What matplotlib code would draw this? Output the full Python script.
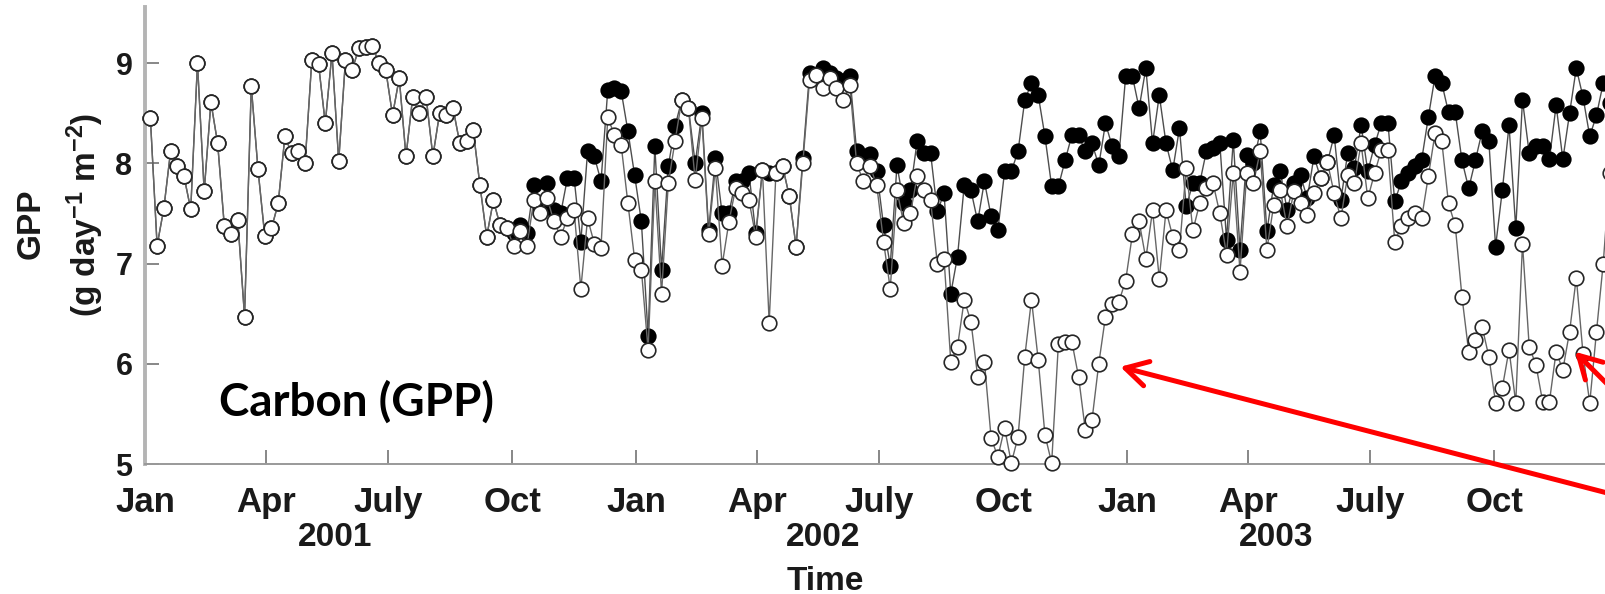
import matplotlib
matplotlib.use('Agg')
import matplotlib.pyplot as plt
import matplotlib.dates as mdates
import numpy as np

plt.rcParams['font.family'] = ['Liberation Sans', 'DejaVu Sans']
plt.rcParams['mathtext.fontset'] = 'custom'
plt.rcParams['mathtext.rm'] = 'Liberation Sans:bold'
plt.rcParams['mathtext.it'] = 'Liberation Sans:bold'
plt.rcParams['mathtext.bf'] = 'Liberation Sans:bold'

# 5-day GPP series, Jan 2001 - Dec 2003
start_date = np.datetime64('2001-01-05')
step_days = 5

# drought-affected run (open circles)
gpp_open = [
    8.45, 7.18, 7.55, 8.12, 7.97, 7.87, 7.54, 9.00, 7.72, 8.61,
    8.20, 7.37, 7.29, 7.43, 6.47, 8.77, 7.94, 7.28, 7.35, 7.60,
    8.27, 8.10, 8.12, 8.00, 9.03, 8.99, 8.40, 9.10, 8.02, 9.03,
    8.93, 9.15, 9.16, 9.17, 9.00, 8.93, 8.48, 8.85, 8.07, 8.66,
    8.50, 8.66, 8.07, 8.50, 8.48, 8.55, 8.20, 8.22, 8.33, 7.78,
    7.27, 7.63, 7.38, 7.35, 7.18, 7.32, 7.18, 7.63, 7.50, 7.65,
    7.42, 7.27, 7.45, 7.53, 6.75, 7.45, 7.20, 7.16, 8.46, 8.28,
    8.18, 7.60, 7.04, 6.94, 6.14, 7.82, 6.70, 7.80, 8.22, 8.63,
    8.55, 7.83, 8.45, 7.29, 7.95, 6.98, 7.41, 7.75, 7.70, 7.63,
    7.27, 7.93, 6.41, 7.90, 7.97, 7.67, 7.17, 8.00, 8.83, 8.88,
    8.75, 8.85, 8.75, 8.63, 8.78, 8.00, 7.82, 7.97, 7.78, 7.22,
    6.75, 7.73, 7.40, 7.50, 7.87, 7.73, 7.63, 7.00, 7.05, 6.02,
    6.17, 6.64, 6.42, 5.87, 6.02, 5.26, 5.07, 5.36, 5.01, 5.27,
    6.07, 6.64, 6.04, 5.29, 5.01, 6.20, 6.22, 6.22, 5.87, 5.34,
    5.44, 6.00, 6.47, 6.60, 6.62, 6.83, 7.29, 7.42, 7.05, 7.53,
    6.85, 7.53, 7.27, 7.14, 7.95, 7.33, 7.60, 7.75, 7.80, 7.50,
    7.09, 7.90, 6.92, 7.90, 7.80, 8.12, 7.14, 7.58, 7.73, 7.37,
    7.72, 7.60, 7.48, 7.70, 7.85, 8.01, 7.70, 7.45, 7.88, 7.80,
    8.20, 7.65, 7.90, 8.13, 8.13, 7.22, 7.37, 7.45, 7.50, 7.45,
    7.87, 8.30, 8.22, 7.60, 7.38, 6.67, 6.12, 6.24, 6.37, 6.07,
    5.61, 5.76, 6.14, 5.61, 7.20, 6.17, 5.99, 5.62, 5.62, 6.12,
    5.94, 6.32, 6.86, 6.10, 5.61, 6.32, 7.00, 7.90,
]

# control run (filled circles)
gpp_filled = [
    8.45, 7.18, 7.55, 8.12, 7.97, 7.87, 7.54, 9.00, 7.72, 8.61,
    8.20, 7.37, 7.29, 7.43, 6.47, 8.77, 7.94, 7.28, 7.35, 7.60,
    8.27, 8.10, 8.12, 8.00, 9.03, 8.99, 8.40, 9.10, 8.02, 9.03,
    8.93, 9.15, 9.16, 9.17, 9.00, 8.93, 8.48, 8.85, 8.07, 8.66,
    8.50, 8.66, 8.07, 8.50, 8.48, 8.55, 8.20, 8.22, 8.33, 7.78,
    7.27, 7.63, 7.38, 7.35, 7.30, 7.38, 7.30, 7.78, 7.55, 7.80,
    7.53, 7.50, 7.85, 7.85, 7.22, 8.12, 8.07, 7.82, 8.73, 8.75,
    8.72, 8.32, 7.88, 7.42, 6.28, 8.17, 6.94, 7.97, 8.37, 8.63,
    8.55, 8.00, 8.50, 7.33, 8.05, 7.50, 7.50, 7.82, 7.82, 7.90,
    7.30, 7.93, 7.90, 7.90, 7.97, 7.67, 7.17, 8.05, 8.90, 8.88,
    8.95, 8.90, 8.85, 8.82, 8.87, 8.12, 8.05, 8.09, 7.92, 7.38,
    6.98, 7.98, 7.60, 7.73, 8.22, 8.10, 8.10, 7.52, 7.70, 6.70,
    7.07, 7.78, 7.73, 7.42, 7.82, 7.47, 7.33, 7.92, 7.92, 8.12,
    8.63, 8.80, 8.68, 8.27, 7.77, 7.77, 8.03, 8.28, 8.28, 8.12,
    8.20, 7.98, 8.40, 8.17, 8.07, 8.87, 8.87, 8.55, 8.95, 8.20,
    8.68, 8.20, 7.93, 8.35, 7.57, 7.80, 7.80, 8.12, 8.15, 8.20,
    7.24, 8.23, 7.14, 8.08, 8.00, 8.32, 7.32, 7.78, 7.92, 7.53,
    7.80, 7.88, 7.65, 8.07, 7.85, 8.01, 8.28, 7.63, 8.10, 7.95,
    8.38, 7.92, 8.18, 8.40, 8.40, 7.62, 7.82, 7.90, 7.97, 8.03,
    8.46, 8.87, 8.80, 8.51, 8.51, 8.03, 7.75, 8.03, 8.32, 8.22,
    7.17, 7.73, 8.38, 7.35, 8.63, 8.10, 8.17, 8.17, 8.04, 8.58,
    8.04, 8.50, 8.95, 8.66, 8.27, 8.48, 8.80, 8.60,
]

dates = start_date + np.arange(len(gpp_open)) * np.timedelta64(step_days, 'D')

tick_dates = ['2001-01-01', '2001-04-01', '2001-07-01', '2001-10-01',
              '2002-01-01', '2002-04-01', '2002-07-01', '2002-10-01',
              '2003-01-01', '2003-04-01', '2003-07-01', '2003-10-01']
tick_labels = ['Jan', 'Apr', 'July', 'Oct'] * 3
year_labels = ['2001', '2002', '2003']
year_label_dates = ['2001-05-22', '2002-05-20', '2003-04-22']
y_ticks = [5, 6, 7, 8, 9]

fig = plt.figure(figsize=(16.06, 5.94), dpi=100)
ax = fig.add_axes([145 / 1606, 130 / 594, 1473 / 1606, 457 / 594])

ax.plot(dates, gpp_filled, '-o', color='0.3', lw=1.0, ms=10.5,
        mfc='black', mec='black', mew=1.2, zorder=2, clip_on=False)
ax.plot(dates, gpp_open, '-o', color='0.4', lw=1.0, ms=10.5,
        mfc='white', mec='0.15', mew=1.2, zorder=3, clip_on=False)

ax.set_xlim(np.datetime64('2001-01-01'), np.datetime64('2004-01-01'))
ax.set_ylim(5, 9.56)

ax.set_xticks([np.datetime64(d) for d in tick_dates])
ax.set_xticklabels(tick_labels)
ax.set_yticks(y_ticks)
ax.tick_params(axis='x', direction='in', length=10, width=1.2, color='0.45',
               labelsize=25, pad=16)
ax.tick_params(axis='y', direction='in', length=10, width=1.2, color='0.45',
               labelsize=22, pad=9)
for lab in ax.get_xticklabels() + ax.get_yticklabels():
    lab.set_fontweight('bold')
    lab.set_color('0.1')

for side in ['top', 'right']:
    ax.spines[side].set_visible(False)
ax.spines['left'].set_color('#b4b4b4')
ax.spines['left'].set_linewidth(2.8)
ax.spines['bottom'].set_color('#999999')
ax.spines['bottom'].set_linewidth(1.4)

# year labels under the month ticks
for lab, d in zip(year_labels, year_label_dates):
    ax.text(np.datetime64(d), -0.16, lab, transform=ax.get_xaxis_transform(),
            ha='center', va='center', fontsize=24, fontweight='bold', color='0.1')

fig.text(825 / 1606, 1 - 581 / 594, 'Time', ha='center', va='center',
         fontsize=24, fontweight='bold', color='0.1')
fig.text(31 / 1606, 1 - 224 / 594, 'GPP', rotation=90, ha='center', va='center',
         fontsize=24, fontweight='bold', color='0.1')
fig.text(85 / 1606, 1 - 215 / 594, r'(g day$^{-1}$ m$^{-2}$)', rotation=90,
         ha='center', va='center', fontsize=24, fontweight='bold', color='0.1')

fig.text(357 / 1606, 1 - 402 / 594, 'Carbon (GPP)', ha='center', va='center',
         fontsize=33, fontweight='bold', family='Lato', color='black')

# red arrows pointing at the drought dips
arrow_props = dict(arrowstyle='->,head_length=0.8,head_width=0.45', color='red',
                   lw=3.6, mutation_scale=20, shrinkA=0, shrinkB=0)
arrow_tips = [(np.datetime64('2002-12-27'), 5.97), (np.datetime64('2003-11-30'), 6.12)]
for tip in arrow_tips:
    ax.annotate('', xy=(mdates.date2num(tip[0]), tip[1]), xycoords='data',
                xytext=(1754, 63), textcoords='figure pixels',
                arrowprops=arrow_props, annotation_clip=False)

fig.savefig('out.png', dpi=100)
